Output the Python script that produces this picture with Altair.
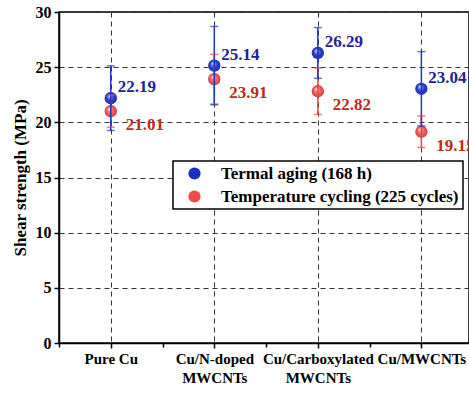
import json
import altair as alt
import pandas as pd

categories = ["Pure Cu", "Cu/N-doped\nMWCNTs", "Cu/Carboxylated\nMWCNTs", "Cu/MWCNTs"]
series_names = ["Termal aging (168 h)", "Temperature cycling (225 cycles)"]
aging = [22.19, 25.14, 26.29, 23.04]
aging_err = [2.93, 3.55, 2.30, 3.37]
cycling = [21.01, 23.91, 22.82, 19.15]
cycling_err = [1.45, 2.25, 2.10, 1.43]

rows = []
for name, vals, errs in [(series_names[1], cycling, cycling_err), (series_names[0], aging, aging_err)]:
    for i, (v, e) in enumerate(zip(vals, errs)):
        rows.append({"series": name, "idx": i, "value": v, "lo": v - e, "hi": v + e,
                     "label": f"{v:.2f}"})
df = pd.DataFrame(rows)

FONT = "Times New Roman, Liberation Serif, serif"
marker_colors = ["#1d2fc8", "#f04a4a"]
bar_colors = ["#2233c0", "#ee4444"]
text_colors = ["#1c2299", "#c02a1a"]

label_js = json.dumps([c.split("\n") for c in categories])
x_label_expr = (f"datum.value % 1 === 0 && datum.value >= 0 && datum.value <= {len(categories)-1}"
                f" ? {label_js}[datum.value] : ''")

x_vals = [i * 0.5 - 0.5 for i in range(2 * len(categories) + 1)]
y_vals = [i * 2.5 for i in range(13)]

x_enc = alt.X("idx:Q", scale=alt.Scale(domain=[-0.5, 3.46], nice=False, zero=False),
              axis=alt.Axis(values=x_vals, labelExpr=x_label_expr, title=None,
                            labelFont=FONT, labelFontSize=15, labelFontWeight="bold",
                            labelColor="black", labelLineHeight=19, labelPadding=3,
                            labelOverlap=False, labelFlush=False, labelBound=False,
                            tickSize={"condition": {"test": "datum.value % 1 !== 0", "value": 4}, "value": 5},
                            gridOpacity={"condition": {"test": "datum.value % 1 !== 0", "value": 0}, "value": 1},
                            grid=True, gridDash=[5, 4], gridColor="#333333", gridWidth=1))
y_enc = alt.Y("value:Q", scale=alt.Scale(domain=[0, 30], nice=False),
              axis=alt.Axis(values=y_vals, title="Shear strength (MPa)",
                            labelExpr="datum.value % 5 === 0 ? datum.label : ''",
                            labelFont=FONT, labelFontSize=16, labelFontWeight="bold",
                            labelColor="black", labelPadding=3,
                            titleFont=FONT, titleFontSize=17, titleFontWeight="bold",
                            titleColor="black", titlePadding=6,
                            tickSize={"condition": {"test": "datum.value % 5 !== 0", "value": 3}, "value": 5},
                            gridOpacity={"condition": {"test": "datum.value % 5 !== 0", "value": 0}, "value": 1},
                            grid=True, gridDash=[5, 4], gridColor="#333333", gridWidth=1))

base = alt.Chart(df)

points = base.mark_point(filled=True, size=150, opacity=1, strokeWidth=0).encode(
    x=x_enc, y=y_enc,
    fill=alt.Fill("series:N", sort=series_names,
                  scale=alt.Scale(domain=series_names, range=marker_colors),
                  legend=alt.Legend(title=None, orient="none", legendX=114, legendY=149,
                                    strokeColor="black", fillColor="white", padding=4,
                                    symbolOffset=9, symbolType="circle", symbolSize=150,
                                    symbolStrokeWidth=0, labelOffset=18, rowPadding=5,
                                    labelFont=FONT, labelFontSize=17, labelFontWeight="bold",
                                    labelColor="black", labelLimit=400)),
)

shine = base.mark_point(
    filled=True, size=150, opacity=1, strokeWidth=0,
    fill=alt.RadialGradient(
        gradient="radial",
        stops=[alt.GradientStop(offset=0, color="rgba(255,255,255,0.95)"),
               alt.GradientStop(offset=0.35, color="rgba(255,255,255,0.3)"),
               alt.GradientStop(offset=0.7, color="rgba(255,255,255,0)"),
               alt.GradientStop(offset=1, color="rgba(0,0,0,0.3)")],
        x1=0.38, y1=0.3, r1=0, x2=0.5, y2=0.5, r2=0.5),
).encode(x="idx:Q", y="value:Q")

stroke_enc = alt.Stroke("series:N", scale=alt.Scale(domain=series_names, range=bar_colors), legend=None)

bars = base.mark_rule(strokeWidth=1.5).encode(x="idx:Q", y="lo:Q", y2="hi:Q", stroke=stroke_enc)
caps_hi = base.mark_tick(orient="horizontal", size=8, thickness=1.5).encode(
    x="idx:Q", y="hi:Q", color=alt.Color("series:N", scale=alt.Scale(domain=series_names, range=bar_colors), legend=None))
caps_lo = base.mark_tick(orient="horizontal", size=8, thickness=1.5).encode(
    x="idx:Q", y="lo:Q", color=alt.Color("series:N", scale=alt.Scale(domain=series_names, range=bar_colors), legend=None))

text_aging = base.transform_filter(alt.datum.series == series_names[0]).mark_text(
    align="left", baseline="middle", dx=7, dy=-11, font=FONT, fontSize=17, fontWeight="bold",
    color=text_colors[0]).encode(x="idx:Q", y="value:Q", text="label:N")
text_cycling = base.transform_filter(alt.datum.series == series_names[1]).mark_text(
    align="left", baseline="middle", dx=15, dy=14, font=FONT, fontSize=17, fontWeight="bold",
    color=text_colors[1]).encode(x="idx:Q", y="value:Q", text="label:N")

chart = alt.layer(points, shine, bars, caps_hi, caps_lo, text_aging, text_cycling).properties(
    width=410, height=331,
    padding={"left": 59, "top": 12, "right": 0, "bottom": 51},
    autosize=alt.AutoSizeParams(type="none"),
    background="white",
).configure_view(stroke="black", strokeWidth=1.5).configure_axis(
    domainColor="black", domainWidth=1.5, tickColor="black", tickWidth=1.5,
).configure_legend(strokeWidth=1.5)

chart.save("out.html", embed_options={"renderer": "svg", "actions": False})
